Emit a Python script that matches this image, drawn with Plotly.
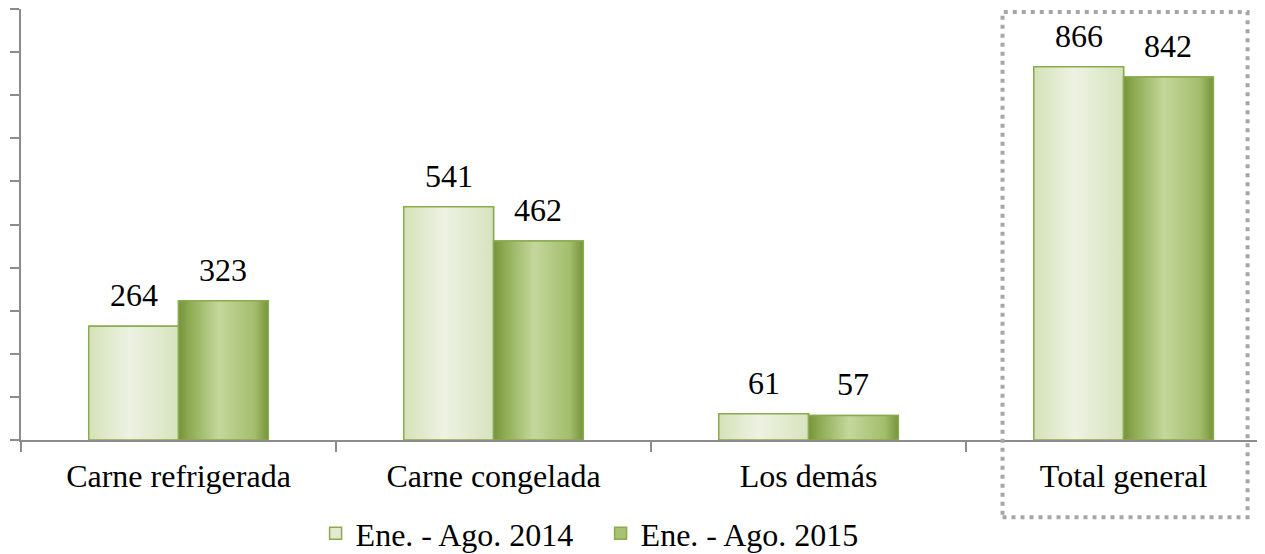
import plotly.graph_objects as go

categories = ["Carne refrigerada", "Carne congelada", "Los demás", "Total general"]
series_names = ["Ene. - Ago. 2014", "Ene. - Ago. 2015"]
values_2014 = [264, 541, 61, 866]
values_2015 = [323, 462, 57, 842]

FONT = "Liberation Serif"
BARGAP = 0.43
XRANGE = [-0.5, 3.449]
border = "#8aab4e"
solid = ["#e2ebd2", "#a9c170"]
grads = [
    [[0, "#d5e2b9"], [0.45, "#edf2e2"], [1, "#d7e3be"]],
    [[0, "#76933a"], [0.12, "#8dab52"], [0.45, "#c4d79c"], [0.85, "#a3bd6c"], [1, "#76933a"]],
]

fig = go.Figure()
all_vals = [values_2014, values_2015]
for k, (name, vals) in enumerate(zip(series_names, all_vals)):
    fig.add_trace(go.Bar(
        x=categories, y=vals, name=name,
        marker=dict(color=solid[k], line=dict(color=border, width=1.5)),
        hoverinfo="skip",
    ))

# gradient overlays and value labels computed from the same data and bar geometry
w = (1 - BARGAP) / 2
annotations = []
for k, vals in enumerate(all_vals):
    for i, v in enumerate(vals):
        x0 = i - w if k == 0 else i
        x1 = x0 + w
        fig.add_trace(go.Scatter(
            x=[x0, x0, x1, x1, x0], y=[0, v, v, 0, 0],
            xaxis="x2", mode="lines", fill="toself",
            fillgradient=dict(type="horizontal", colorscale=grads[k]),
            line=dict(color=border, width=1.5),
            showlegend=False, hoverinfo="skip",
        ))
        annotations.append(dict(
            x=(x0 + x1) / 2, y=v, xref="x2", yref="y", text=str(v),
            showarrow=False, yanchor="bottom", xanchor="center", yshift=11,
            font=dict(family=FONT, size=32, color="black"),
        ))

fig.update_layout(
    width=1257, height=546,
    margin=dict(l=13, r=0, t=1, b=114, pad=0, autoexpand=False),
    plot_bgcolor="white", paper_bgcolor="white",
    barmode="group", bargap=BARGAP, bargroupgap=0,
    font=dict(family=FONT, size=32, color="black"),
    xaxis=dict(
        type="category", range=XRANGE, showline=True, linecolor="#8c8c8c", linewidth=2,
        ticks="outside", tickson="boundaries", ticklen=10, tickcolor="#8c8c8c", tickwidth=2,
        tickfont=dict(family=FONT, size=32, color="black"), showgrid=False, zeroline=False,
        ticklabelstandoff=7, automargin=False,
    ),
    xaxis2=dict(overlaying="x", range=XRANGE, visible=False, showgrid=False, zeroline=False),
    yaxis=dict(
        range=[0, 1000], dtick=100, showline=True, linecolor="#8c8c8c", linewidth=2,
        ticks="outside", ticklen=9, tickcolor="#8c8c8c", tickwidth=2,
        showticklabels=False, showgrid=False, zeroline=False, automargin=False,
    ),
    showlegend=True,
    legend=dict(
        orientation="h", x=0.2368, xanchor="left", yref="paper", y=-0.153, yanchor="top",
        font=dict(family=FONT, size=32, color="black"), bgcolor="rgba(0,0,0,0)",
        itemwidth=30, tracegroupgap=0, entrywidth=240, entrywidthmode="pixels",
    ),
    annotations=annotations,
    shapes=[dict(
        type="rect", xref="paper", yref="paper",
        x0=0.789, x1=0.986, y0=-0.179, y1=0.993,
        line=dict(color="#a6a6a6", width=4, dash="4px,5px"),
    )],
)

fig.write_html("out.html")
